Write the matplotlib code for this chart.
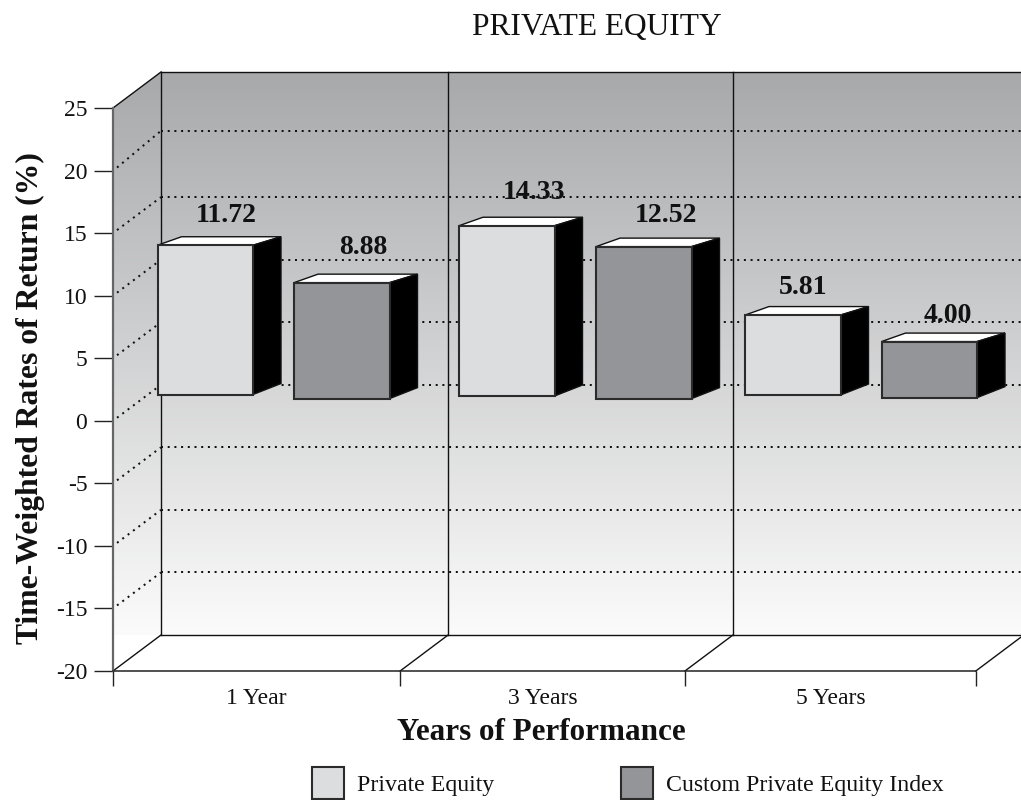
import matplotlib
matplotlib.use("Agg")
import matplotlib.pyplot as plt
import numpy as np
from matplotlib.patches import Polygon

plt.rcParams['font.family'] = ['Liberation Serif', 'DejaVu Serif']

# ---- data ----
categories = ['1 Year', '3 Years', '5 Years']
series_names = ['Private Equity', 'Custom Private Equity Index']
pe_labels = ['11.72', '14.33', '5.81']
index_labels = ['8.88', '12.52', '4.00']
# bar heights as measured on the value axis (the drawing is not exactly to scale)
pe_heights = [11.93, 13.61, 6.39]
index_heights = [9.27, 12.15, 4.48]
pe_base = [2.10, 1.98, 2.06]
index_base = [1.77, 1.77, 1.85]
y_ticks = list(range(-20, 30, 5))
wall_grid = [-15, -10, -5, 0, 5, 10, 15, 20.3]

# ---- layout ----
W, H = 1021, 800
L, R, B, T = 113, 1021, 671, 108
PX_X, PX_Y = 287.7, (B - T) / 45
def xu(px): return px / PX_X
def yu(px): return px / PX_Y
DX, DY = xu(48), yu(36)
group_ticks = [0, 0.998, 1.988, 2.999]
group_centres = [0.4965, 1.4925, 2.4935]
pe_left = [xu(157.5 - L), xu(459 - L), xu(745 - L)]
index_left = [xu(294 - L), xu(596 - L), xu(881.5 - L)]
BAR_W = xu(95.5)
PE_COL, INDEX_COL = '#dcddde', '#939598'
EDGE = '#2b2b2b'

fig = plt.figure(figsize=(W / 100, H / 100), dpi=100)
ax = fig.add_axes([L / W, 1 - B / H, (R - L) / W, (B - T) / H])
ax.set_xlim(0, xu(R - L))
ax.set_ylim(-20, 25)
XMAX = xu(R - L)

# walls with gradient
grad = np.linspace(0, 1, 256)[:, None]
top, bot = np.array([168, 169, 171]) / 255, np.array([251, 251, 251]) / 255
img = (top + (bot - top) * grad)[:, None, :].reshape(256, 1, 3)
im = ax.imshow(img, extent=[0, XMAX, -20 + DY, 25 + DY], origin='upper', aspect='auto', zorder=0)
wall = Polygon([(0, -20), (DX, -20 + DY), (XMAX, -20 + DY), (XMAX, 25 + DY), (DX, 25 + DY), (0, 25)],
               closed=True, transform=ax.transData, fc='none', ec='none')
ax.add_patch(wall)
im.set_clip_path(wall)
im.set_clip_box(fig.bbox)
ax.set_xlim(0, XMAX)
ax.set_ylim(-20, 25)

dots = dict(color='#111111', lw=1.44, linestyle=(0, (1, 2.35)), zorder=1, clip_on=False, dash_capstyle='butt')
for v, f in zip(wall_grid, y_ticks[1:-1]):
    ax.plot([DX, XMAX], [v + DY, v + DY], **dots)
    ax.plot([xu(4), DX], [f + yu(3), v + DY], **dots)

line = dict(color='#111111', lw=1.0, zorder=2, clip_on=False)
# back wall edges
ax.plot([DX, XMAX], [25 + DY, 25 + DY], **line)
ax.plot([DX, XMAX], [-20 + DY, -20 + DY], **line)
ax.plot([0, DX], [25, 25 + DY], **line)
for g in group_ticks[:3]:
    ax.plot([g + DX] * 2, [-20 + DY, 25 + DY], **line)
for g in group_ticks:
    x1 = min(g + DX, XMAX)
    frac = (x1 - g) / DX
    ax.plot([g, x1], [-20, -20 + DY * frac], **line)

# bars
TOP_DX, TOP_DX_L, TOP_DY, BOT_DY = xu(28), xu(24), yu(8.5), yu(11)
def bar3d(x0, base, h, col):
    x1 = x0 + BAR_W
    t = base + h
    kw = dict(closed=True, zorder=3, clip_on=False, joinstyle='miter')
    ax.add_patch(Polygon([(x0, t), (x0 + TOP_DX_L, t + TOP_DY), (x1 + TOP_DX, t + TOP_DY), (x1, t)],
                         fc='white', ec='#111111', lw=1.0, **kw))
    ax.add_patch(Polygon([(x1, t), (x1 + TOP_DX, t + TOP_DY), (x1 + TOP_DX, base + BOT_DY), (x1, base)],
                         fc='black', ec='#111111', lw=1.0, **kw))
    ax.add_patch(Polygon([(x0, base), (x1, base), (x1, t), (x0, t)], fc=col, ec=EDGE, lw=1.5, **kw))

for i in range(3):
    bar3d(pe_left[i], pe_base[i], pe_heights[i], PE_COL)
    bar3d(index_left[i], index_base[i], index_heights[i], INDEX_COL)

# value labels
label_shift = [(21, 30), (21, 35), (27, 33), (22, 31), (10, 28), (19, 26)]
seq = [(pe_left[0], pe_base[0] + pe_heights[0], pe_labels[0]),
       (index_left[0], index_base[0] + index_heights[0], index_labels[0]),
       (pe_left[1], pe_base[1] + pe_heights[1], pe_labels[1]),
       (index_left[1], index_base[1] + index_heights[1], index_labels[1]),
       (pe_left[2], pe_base[2] + pe_heights[2], pe_labels[2]),
       (index_left[2], index_base[2] + index_heights[2], index_labels[2])]
for (x, t, s), (sx, sy) in zip(seq, label_shift):
    ax.text(x + BAR_W / 2 + xu(sx), t + yu(sy), s, ha='center', va='center', fontsize=20,
            fontweight='bold', color='#111111', zorder=4, clip_on=False)

# axes, ticks
for s in ('top', 'right'):
    ax.spines[s].set_visible(False)
ax.spines['left'].set_color('#666666')
ax.spines['left'].set_linewidth(1.6)
ax.spines['left'].set_zorder(2.5)
ax.spines['bottom'].set_color('#222222')
ax.spines['bottom'].set_linewidth(1.1)
ax.spines['bottom'].set_bounds(0, group_ticks[-1])
ax.set_yticks(y_ticks)
ax.set_yticklabels([str(v) for v in y_ticks])
ax.tick_params(axis='y', length=13.5, width=1.0, color='#222222', pad=5, labelsize=17, labelcolor='#111111')
ax.set_xticks(group_ticks)
ax.set_xticklabels([])
ax.set_xticks(group_centres, minor=True)
ax.set_xticklabels(categories, minor=True)
ax.tick_params(axis='x', which='major', length=11, width=1.0, color='#222222')
ax.tick_params(axis='x', which='minor', length=0, pad=12, labelsize=17, labelcolor='#111111')

fig.text(30 / W, 1 - 398 / H, 'Time-Weighted Rates of Return (%)', rotation=90, ha='center', va='center',
         fontsize=22.8, fontweight='bold', color='#111111')
fig.text(541.5 / W, 1 - 732 / H, 'Years of Performance', ha='center', va='center',
         fontsize=22.4, fontweight='bold', color='#111111')
fig.text(597 / W, 1 - 28 / H, 'PRIVATE EQUITY', ha='center', va='center', fontsize=22.6, color='#111111')

# legend
h1 = Polygon([(0, 0), (1, 0), (1, 1), (0, 1)], fc=PE_COL, ec=EDGE, lw=1.5)
h2 = Polygon([(0, 0), (1, 0), (1, 1), (0, 1)], fc=INDEX_COL, ec=EDGE, lw=1.5)
fig.legend([h1, h2], series_names, loc='upper left', bbox_to_anchor=(312 / W, 1 - 767 / H), ncol=2, frameon=False,
           fontsize=17.2, handlelength=1.34, handleheight=1.7, handletextpad=0.54, columnspacing=5.3,
           borderpad=0, borderaxespad=0, labelcolor='#111111')

fig.savefig('out.png', dpi=100)
